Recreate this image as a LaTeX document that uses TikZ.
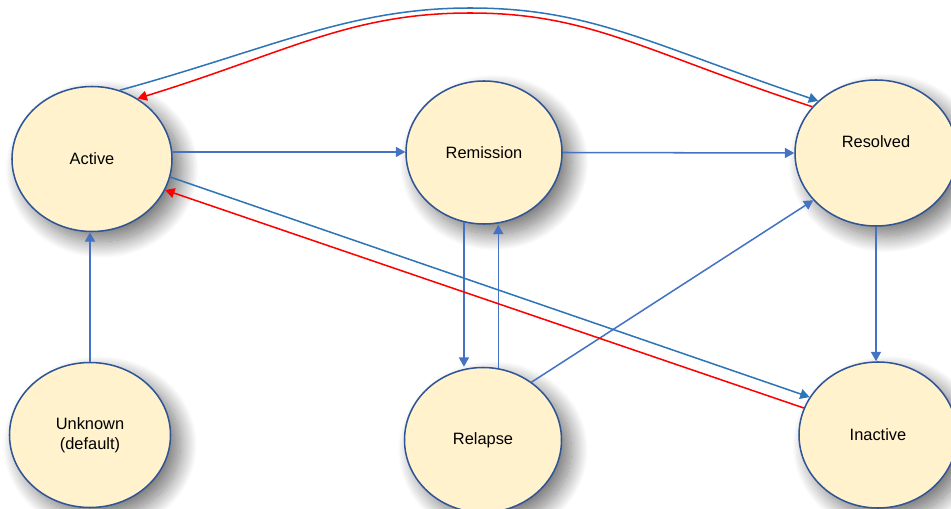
\documentclass[tikz,border=0pt]{standalone}
\usepackage{fontspec}
\setmainfont{Liberation Sans}
\usetikzlibrary{shapes.geometric,shadows.blur,arrows.meta}
\definecolor{statefill}{HTML}{FFF2CC}
\definecolor{statedraw}{HTML}{2F5597}
\definecolor{flowblue}{HTML}{4472C4}
\definecolor{backblue}{HTML}{2E75B6}
\definecolor{backred}{HTML}{FF0000}
\begin{document}
\begin{tikzpicture}[x=0.03cm,y=-0.03cm,
        state/.style={ellipse,draw=statedraw,line width=1.3pt,fill=statefill,inner sep=0pt,
            font=\fontsize{14}{17}\selectfont,align=center,
            blur shadow={shadow xshift=0.3cm,shadow yshift=-0.3cm,shadow blur radius=0.5cm,
                shadow blur steps=25,shadow opacity=55}},
        flow/.style={draw=flowblue,line width=1.3pt,-{Triangle[length=0.28cm,width=0.3cm]}},
        bluearc/.style={flow,draw=backblue},
        redarc/.style={flow,draw=backred}]
    \useasboundingbox (0,0) rectangle (951,509);
    \node[state,minimum width=4.8cm,minimum height=4.35cm] (act) at (92,159) {Active};
    \node[state,minimum width=4.68cm,minimum height=4.29cm] (rem) at (484,152.5) {Remission};
    \node[state,minimum width=4.86cm,minimum height=4.38cm,
        label={[yshift=0.33cm,font=\fontsize{14}{17}\selectfont]center:Resolved}] (res) at (876,153) {};
    \node[state,minimum width=4.83cm,minimum height=4.35cm] (unk) at (90,435) {Unknown\\(default)};
    \node[state,minimum width=4.71cm,minimum height=4.35cm] (rel) at (483,440) {Relapse};
    \node[state,minimum width=4.74cm,minimum height=4.38cm] (ina) at (878,435) {Inactive};

    \draw[flow] (unk.north) -- (unk.north |- act.south);
    \draw[flow] (act.5) -- (act.5 -| rem.west);
    \draw[flow] (rem.east) -- (res.west);
    \draw[flow] (rem.254) -- (rem.254 |- rel.north);
    \draw[flow] (rel.78) -- (rel.78 |- rem.south);
    \draw[flow] (rel.50) -- (res.217);
    \draw[flow] (res.south) -- (res.south |- ina.north);
    \draw[bluearc] (act.-13) -- (ina.151);
    \draw[redarc] (ina.160) -- (act.-23);
    \draw[bluearc] (act.68) .. controls (270,49) and (350,8) .. (470,8)
        .. controls (590,8) and (648,43.5) .. (res.138);
    \draw[redarc] (res.144) .. controls (642,51) and (590,13) .. (470,13)
        .. controls (350,13) and (287,52.5) .. (act.53);
\end{tikzpicture}
\end{document}
